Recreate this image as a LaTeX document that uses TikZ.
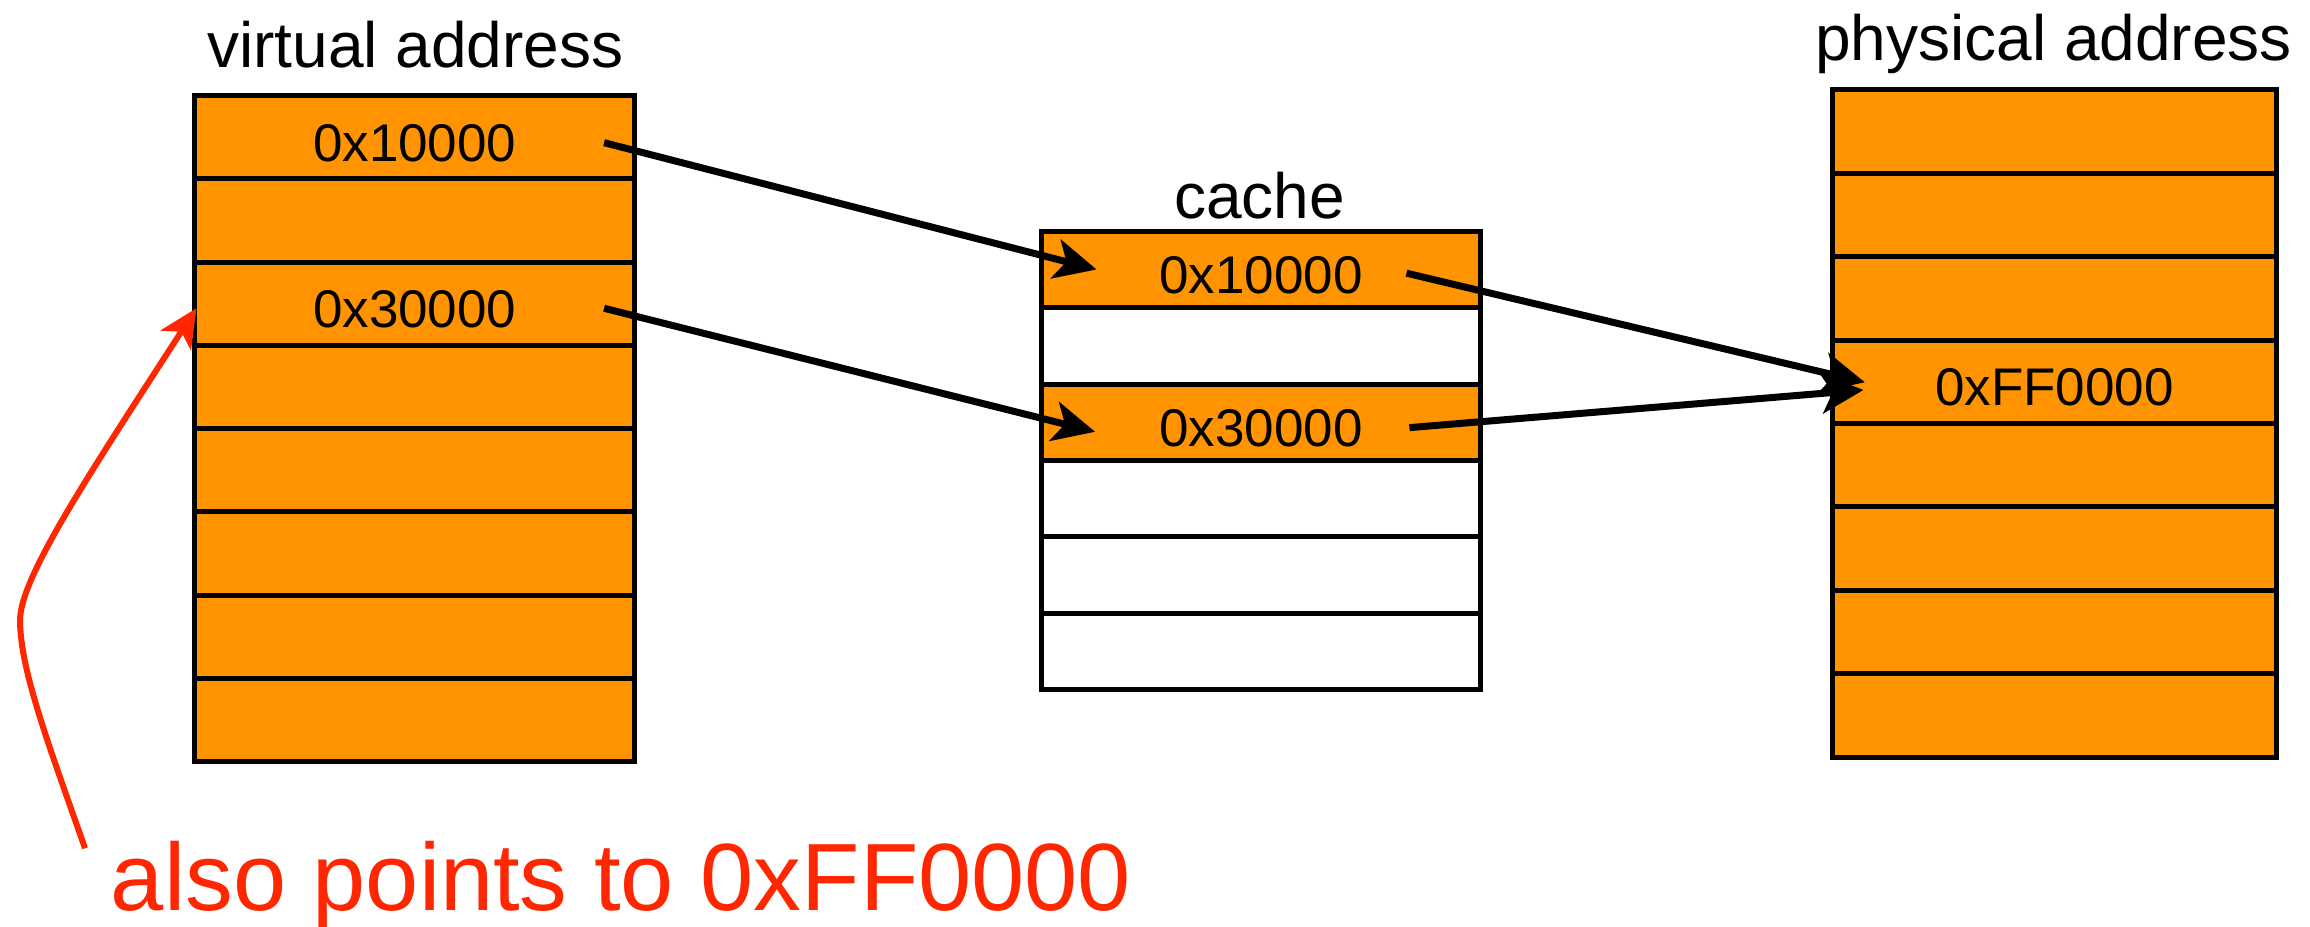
\documentclass[tikz,border=0pt]{standalone}
\usepackage{fontspec}
\setmainfont{Liberation Sans}
\usetikzlibrary{arrows.meta,calc}
\definecolor{cellorange}{RGB}{255,147,0}
\definecolor{notered}{RGB}{255,38,0}
\begin{document}
\begin{tikzpicture}[x=0.7366pt,y=-0.7366pt,
  cell/.style={draw=black,line width=2.5pt,fill=cellorange,inner sep=0pt,
    font=\fontsize{26.5}{30}\selectfont,text height=24pt,text depth=0pt},
  vcell/.style={cell,minimum width=220.2pt,minimum height=41.62pt},
  ccell/.style={cell,minimum width=219.5pt,minimum height=38.18pt},
  pcell/.style={cell,minimum width=221.7pt,minimum height=41.71pt},
  blank/.style={fill=white},
  title/.style={anchor=base,inner sep=0pt,font=\fontsize{32}{38}\selectfont},
  link/.style={line width=3.5pt,-{Stealth[length=21pt,width=20pt,inset=5.5pt]}},
  notearrow/.style={draw=notered,line width=3pt,-{Stealth[length=19pt,width=18pt,inset=5pt]}},
  notetext/.style={anchor=base west,inner sep=0pt,text=notered,font=\fontsize{47.8}{56}\selectfont}
]
\useasboundingbox (0,0) rectangle (1568,629);

% titles
\node[title] (tv) at (282,46) {virtual address};
\node[title] (tc) at (855,148) {cache};
\node[title] (tp) at (1394,41) {physical address};

% virtual address column
\node[vcell] (v1) at (281.5,93.25) {0x10000};
\node[vcell] (v2) at (281.5,149.75) {};
\node[vcell] (v3) at (281.5,206.25) {0x30000};
\node[vcell] (v4) at (281.5,262.75) {};
\node[vcell] (v5) at (281.5,319.25) {};
\node[vcell] (v6) at (281.5,375.75) {};
\node[vcell] (v7) at (281.5,432.25) {};
\node[vcell] (v8) at (281.5,488.75) {};

% cache column
\node[ccell] (c1) at (856,182.92) {0x10000};
\node[ccell,blank] (c2) at (856,234.75) {};
\node[ccell] (c3) at (856,286.58) {0x30000};
\node[ccell,blank] (c4) at (856,338.42) {};
\node[ccell,blank] (c5) at (856,390.25) {};
\node[ccell,blank] (c6) at (856,442.08) {};

% physical address column
\node[pcell] (p1) at (1394.5,89.31) {};
\node[pcell] (p2) at (1394.5,145.94) {};
\node[pcell] (p3) at (1394.5,202.56) {};
\node[pcell] (p4) at (1394.5,259.19) {0xFF0000};
\node[pcell] (p5) at (1394.5,315.81) {};
\node[pcell] (p6) at (1394.5,372.44) {};
\node[pcell] (p7) at (1394.5,429.06) {};
\node[pcell] (p8) at (1394.5,485.69) {};

% connectors
\draw[link] ($(v1.east)+(-22.6,3.6)$) -- ($(c1.west)+(39,0)$);
\draw[link] ($(v3.east)+(-22.6,3)$) -- ($(c3.west)+(38,6.5)$);
\draw[link] ($(c1.east)+(-52,2.5)$) -- ($(p4.west)+(23.5,0.3)$);
\draw[link] ($(c3.east)+(-50,3.7)$) -- ($(p4.west)+(22.6,5.5)$);

% note
\node[notetext] (note) at (75,618) {also points to 0xFF0000};
\coordinate (ns) at ($(note.base west)+(-17.3,-42.2)$);
\coordinate (ne) at ($(v3.west)+(3,3)$);
\draw[notearrow] (ns) .. controls (34,508) and (13.6,455) .. (13.6,421)
  .. controls (13.6,392) and (60.9,321.4) .. (ne);
\end{tikzpicture}
\end{document}
